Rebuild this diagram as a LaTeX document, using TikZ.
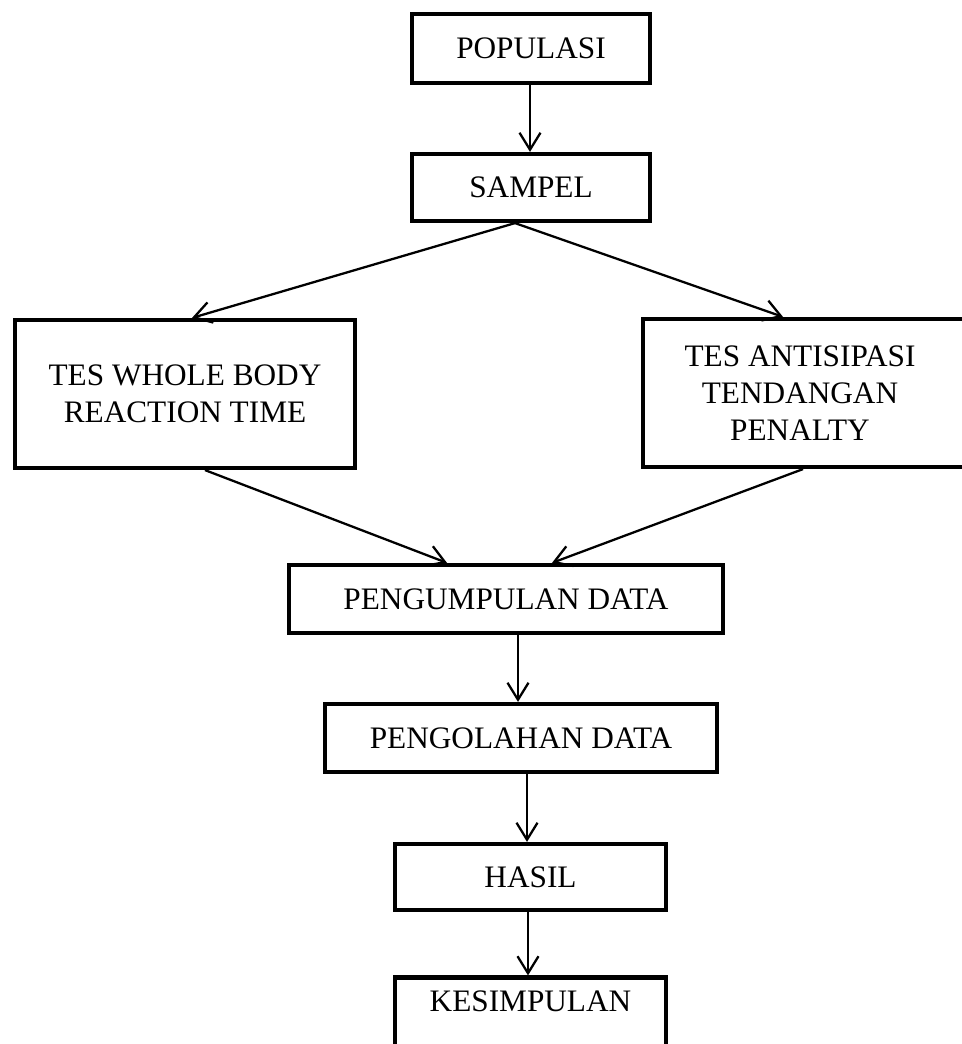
\documentclass[tikz,border=0pt]{standalone}
\usepackage{fontspec}
\setmainfont{Liberation Serif}
\usetikzlibrary{arrows.meta}

\begin{document}
\begin{tikzpicture}[x=0.02cm,y=-0.02cm,
  kotak/.style={draw,line width=2.4pt,inner sep=0pt,align=center,
    font=\fontsize{17.8}{21}\selectfont},
  panah/.style={line width=1.3pt,-{Straight Barb[length=0.34cm,width=0.42cm,line width=1.3pt]}}]
\useasboundingbox (0,0) rectangle (961,1044);
% kotak alur
\node[kotak,minimum width=4.76cm,minimum height=1.38cm] (pop) at (531,48.5) {POPULASI};
\node[kotak,minimum width=4.76cm,minimum height=1.34cm] (sam) at (531,187.5) {SAMPEL};
\node[kotak,minimum width=6.80cm,minimum height=2.96cm] (wbrt) at (185,394) {TES WHOLE BODY\\REACTION TIME};
\node[kotak,minimum width=6.54cm,minimum height=2.96cm,
  label={[align=center,xshift=-0.13cm,font=\fontsize{17.8}{21}\selectfont]center:TES ANTISIPASI\\TENDANGAN\\PENALTY}] (ant) at (806.5,393) {};
\node[kotak,minimum width=8.68cm,minimum height=1.36cm] (kum) at (506,599) {PENGUMPULAN DATA};
\node[kotak,minimum width=7.84cm,minimum height=1.36cm] (olah) at (521,738) {PENGOLAHAN DATA};
\node[kotak,minimum width=5.42cm,minimum height=1.32cm] (hasil) at (530.5,877) {HASIL};
\node[kotak,minimum width=5.42cm,minimum height=1.5cm,text depth=0.56cm] (simpul) at (530.5,1015) {KESIMPULAN};
% panah
\draw[panah] ([xshift=-0.02cm]pop.south) -- ([xshift=-0.02cm]sam.north);
\draw[panah] ([xshift=-0.32cm]sam.south) -- ([xshift=0.14cm]wbrt.north);
\draw[panah] ([xshift=-0.32cm]sam.south) -- ([xshift=-0.47cm]ant.north);
\draw[panah] ([xshift=0.4cm]wbrt.south) -- ([xshift=-1.18cm]kum.north);
\draw[panah] ([xshift=-0.07cm]ant.south) -- ([xshift=0.92cm]kum.north);
\draw[panah] ([xshift=0.24cm]kum.south) -- ([xshift=0.24cm]kum.south |- olah.north);
\draw[panah] ([xshift=0.12cm]olah.south) -- ([xshift=0.12cm]olah.south |- hasil.north);
\draw[panah] ([xshift=-0.05cm]hasil.south) -- ([xshift=-0.05cm]hasil.south |- simpul.north);
\end{tikzpicture}
\end{document}
